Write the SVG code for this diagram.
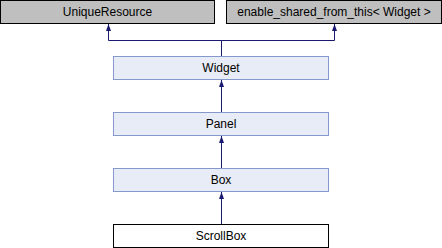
<svg xmlns="http://www.w3.org/2000/svg" width="442" height="248" viewBox="0 0 442 248">
<style>
.base rect{fill:#bfbfbf;stroke:#000;stroke-width:1}
.cls rect{fill:#e8ecf6;stroke:#8498cb;stroke-width:1}
.cur rect{fill:#fff;stroke:#000;stroke-width:1}
text{font-family:"Liberation Sans",Arial,sans-serif;font-size:12px;fill:#000;text-anchor:middle}
.edge{fill:none;stroke:#191970;stroke-width:1}
</style>
<defs>
<marker id="ah" viewBox="0 0 7 6" refX="7" refY="3" markerWidth="7" markerHeight="6" markerUnits="userSpaceOnUse" orient="auto">
<path d="M0,0.5 L7,3 L0,5.5 Z" fill="#191970"/>
</marker>
</defs>
<g id="UniqueResource" class="base"><rect x="0.5" y="0.5" width="214" height="23"/><text x="107.5" y="16">UniqueResource</text></g>
<g id="enable_shared_from_this" class="base"><rect x="226.5" y="0.5" width="215" height="23"/><text x="334" y="16">enable_shared_from_this&lt; Widget &gt;</text></g>
<g id="Widget" class="cls"><rect x="113.5" y="56.5" width="215" height="23"/><text x="221" y="72">Widget</text></g>
<g id="Panel" class="cls"><rect x="113.5" y="112.5" width="215" height="23"/><text x="221" y="128">Panel</text></g>
<g id="Box" class="cls"><rect x="113.5" y="168.5" width="215" height="23"/><text x="221" y="184">Box</text></g>
<g id="ScrollBox" class="cur"><rect x="113.5" y="224.5" width="215" height="23"/><text x="221" y="240">ScrollBox</text></g>
<g id="connectors">
<polyline class="edge" points="221.5,56 221.5,40.5 108.5,40.5 108.5,24" marker-end="url(#ah)"/>
<polyline class="edge" points="221.5,56 221.5,40.5 334.5,40.5 334.5,24" marker-end="url(#ah)"/>
<line class="edge" x1="221.5" y1="112" x2="221.5" y2="80" marker-end="url(#ah)"/>
<line class="edge" x1="221.5" y1="168" x2="221.5" y2="136" marker-end="url(#ah)"/>
<line class="edge" x1="221.5" y1="224" x2="221.5" y2="192" marker-end="url(#ah)"/>
</g>
</svg>
